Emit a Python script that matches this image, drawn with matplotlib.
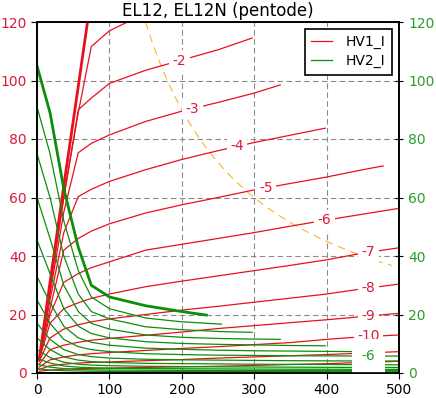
import numpy as np
import matplotlib
matplotlib.use("Agg")
import matplotlib.pyplot as plt

# ---- data ----
title = "EL12, EL12N (pentode)"
grids = [0, -1, -2, -3, -4, -5, -6, -7, -8, -9, -10, -11, -12]
Va = [3, 18, 37, 57, 75, 100, 150, 200, 250, 300, 350, 400, 450, 500]
Va_g = [0, 18, 37, 57, 75, 100, 150, 200, 250, 300, 350, 400, 450, 500]

# plate current (HV1_I), mA
ia_0 = [4.5, 31, 64, 98, 129]
ia_m1 = [4.5, 29, 60, 89, 111.6, 117, 123]
ia_m2 = [4.5, 29, 60, 90, 94, 99, 103.5, 107, 110.5, 114.5]
ia_m3 = [4.5, 27, 55, 75.3, 78.5, 81.4, 86, 89.5, 92.5, 95.7, 98.5]
ia_m4 = [4.5, 25, 48, 60.3, 62.8, 65.5, 69.5, 73, 76, 78.8, 81.3, 83.7]
ia_m5 = [4.5, 22, 42, 46, 48.5, 51, 54.7, 57.5, 60, 62.6, 64.8, 67, 69.5, 70.8]
ia_m6 = [4.5, 20, 31, 34, 36, 38, 42, 44, 46, 48, 50.2, 52.3, 54.3, 56.3]
ia_m7 = [4.5, 17, 22, 24, 25.5, 27, 29.5, 31.4, 33.2, 35, 36.8, 38.7, 41, 42.8]
ia_m8 = [4, 12, 15, 16.5, 17.5, 18.5, 20, 21.5, 22.8, 24.2, 25.6, 27, 28.8, 30.4]
ia_m9 = [3, 8, 9.5, 10.5, 11.2, 11.8, 12.9, 14, 15.2, 16.2, 17.2, 18.2, 19.3, 20.4]
ia_m10 = [2, 4.5, 5.5, 6.2, 6.6, 7, 7.7, 8.4, 9, 9.7, 10.4, 11.5, 12.4, 13]
ia_m11 = [1.2, 2.5, 3, 3.4, 3.6, 3.8, 4.2, 4.6, 5.1, 5.5, 5.9, 6.3, 6.8, 7.3]
ia_m12 = [0.6, 1, 1.3, 1.5, 1.6, 1.7, 1.9, 2.1, 2.3, 2.6, 2.9, 3.2, 3.6, 4.0]
va_end_m2, va_end_m3, va_end_m4, va_end_m5 = 297, 336, 398, 478

# screen current (HV2_I), mA
ig_0 = [105, 89, 63, 43, 30, 26, 23, 21, 19.8]
va_end_g0 = 234
ig_m1 = [91, 75, 52, 35, 26, 22, 18.8, 17.5, 16.7]
va_end_g1 = 255
ig_m2 = [75, 60, 40, 27, 21, 18.5, 15.8, 14.8, 14.2, 13.9]
va_end_g2 = 297
ig_m3 = [60, 46, 30, 21, 17, 15, 13, 12.2, 11.8, 11.6, 11.5]
va_end_g3 = 336
ig_m4 = [45.5, 34, 22, 16, 13.5, 12, 10.7, 10.1, 9.8, 9.6, 9.4, 9.3]
va_end_g4 = 398
ig_m5 = [33, 24, 16, 12, 10.5, 9.5, 8.5, 8.1, 7.8, 7.6, 7.5, 7.4, 7.3]
va_end_g5 = 439
ig_m6 = [25, 17, 11.5, 9, 8, 7.3, 6.6, 6.3, 6.1, 6.0, 5.9, 5.85, 5.8, 5.8]
ig_m7 = [17, 11.5, 8, 6.3, 5.6, 5.1, 4.7, 4.5, 4.4, 4.3, 4.2, 4.15, 4.1, 4.1]
ig_m8 = [12, 8, 5.5, 4.4, 3.9, 3.6, 3.3, 3.2, 3.1, 3.0, 2.95, 2.9, 2.85, 2.8]
ig_m9 = [8, 5.3, 3.7, 3, 2.7, 2.5, 2.3, 2.2, 2.1, 2.05, 2.0, 1.95, 1.9, 1.9]
ig_m10 = [5, 3.4, 2.4, 2, 1.8, 1.6, 1.5, 1.45, 1.4, 1.35, 1.3, 1.3, 1.25, 1.25]
ig_m11 = [3, 2, 1.5, 1.2, 1.1, 1, .95, .9, .88, .85, .83, .82, .8, .8]
ig_m12 = [1.5, 1, .8, .7, .6, .55, .5, .5, .48, .46, .45, .44, .43, .43]

pdiss_w = 18.0
pdiss_va = [150, 490]

red_labels = {-2: 197, -3: 215, -4: 276, -5: 316, -6: 397, -7: 458, -8: 458, -9: 458, -10: 458}
green_label = (-6, 458)

xticks = [0, 100, 200, 300, 400, 500]
yticks = [0, 20, 40, 60, 80, 100, 120]


def xs_for(base, ys, va_end=None):
    xs = list(base[:len(ys)])
    if va_end is not None:
        xs[-1] = va_end
    return xs


red_curves = {
    0: (xs_for(Va, ia_0), ia_0),
    -1: (xs_for(Va, ia_m1), ia_m1),
    -2: (xs_for(Va, ia_m2, va_end_m2), ia_m2),
    -3: (xs_for(Va, ia_m3, va_end_m3), ia_m3),
    -4: (xs_for(Va, ia_m4, va_end_m4), ia_m4),
    -5: (xs_for(Va, ia_m5, va_end_m5), ia_m5),
    -6: (xs_for(Va, ia_m6), ia_m6),
    -7: (xs_for(Va, ia_m7), ia_m7),
    -8: (xs_for(Va, ia_m8), ia_m8),
    -9: (xs_for(Va, ia_m9), ia_m9),
    -10: (xs_for(Va, ia_m10), ia_m10),
    -11: (xs_for(Va, ia_m11), ia_m11),
    -12: (xs_for(Va, ia_m12), ia_m12),
}
green_curves = {
    0: (xs_for(Va_g, ig_0, va_end_g0), ig_0),
    -1: (xs_for(Va_g, ig_m1, va_end_g1), ig_m1),
    -2: (xs_for(Va_g, ig_m2, va_end_g2), ig_m2),
    -3: (xs_for(Va_g, ig_m3, va_end_g3), ig_m3),
    -4: (xs_for(Va_g, ig_m4, va_end_g4), ig_m4),
    -5: (xs_for(Va_g, ig_m5, va_end_g5), ig_m5),
    -6: (xs_for(Va_g, ig_m6), ig_m6),
    -7: (xs_for(Va_g, ig_m7), ig_m7),
    -8: (xs_for(Va_g, ig_m8), ig_m8),
    -9: (xs_for(Va_g, ig_m9), ig_m9),
    -10: (xs_for(Va_g, ig_m10), ig_m10),
    -11: (xs_for(Va_g, ig_m11), ig_m11),
    -12: (xs_for(Va_g, ig_m12), ig_m12),
}

RED = "#e8101e"
GREEN = "#0a8f0a"
RED_T = "#d81b3c"
GREEN_T = "#2a9d2a"

fig = plt.figure(figsize=(4.36, 3.98), dpi=100)
ax = fig.add_axes([37 / 436, 1 - 373 / 398, 362 / 436, 351 / 398])
ax2 = ax.twinx()

ax.grid(True, color="#8c8c8c", linestyle=(0, (5, 3)), linewidth=0.8)
ax.set_axisbelow(True)

for g in grids:
    xs, ys = red_curves[g]
    lw = 2.0 if g == 0 else 0.9
    ax.plot(xs, ys, color=RED, lw=lw, label="HV1_I" if g == -1 else None, zorder=3)
for g in grids:
    xs, ys = green_curves[g]
    lw = 2.0 if g == 0 else 0.9
    ax.plot(xs, ys, color=GREEN, lw=lw, label="HV2_I" if g == -1 else None, zorder=3)

pv = np.linspace(pdiss_va[0], pdiss_va[1], 200)
ax.plot(pv, pdiss_w * 1000 / pv, color="orange", lw=0.8, ls=(0, (7, 5)), alpha=0.85, zorder=2)

bbox = dict(boxstyle="square,pad=0.25", fc="white", ec="none")
for g, xv in red_labels.items():
    xs, ys = red_curves[g]
    yv = np.interp(xv, xs, ys)
    ax.text(xv, yv, str(g), color=RED_T, fontsize=10, ha="center", va="center", bbox=bbox, zorder=5)
gg, gx = green_label
xs, ys = green_curves[gg]
ax.text(gx, np.interp(gx, xs, ys), str(gg), color=GREEN_T, fontsize=10, ha="center", va="center",
        bbox=dict(boxstyle="square,pad=0.7", fc="white", ec="none"), zorder=6)

ax.set_xlim(0, 500)
ax.set_ylim(0, 120)
ax2.set_ylim(0, 120)
ax.set_xticks(xticks)
ax.set_yticks(yticks)
ax2.set_yticks(yticks)
ax.tick_params(axis="y", colors=RED_T, labelsize=10, direction="out", length=4)
ax.tick_params(axis="y", color="black")
ax.tick_params(axis="x", labelsize=10, direction="out", length=4)
ax2.tick_params(axis="y", colors=GREEN_T, labelsize=10, direction="inout", length=6)
ax2.tick_params(axis="y", color="black")
for a in (ax, ax2):
    for s in a.spines.values():
        s.set_linewidth(1.2)

ax.set_title(title, fontsize=12, pad=4)
leg = ax.legend(loc="upper right", fontsize=10, fancybox=False, framealpha=1,
                edgecolor="black", borderpad=0.45, labelspacing=0.35, handlelength=1.5,
                handletextpad=1.0, borderaxespad=0.5)
leg.get_frame().set_linewidth(1.2)
leg.set_zorder(10)

fig.savefig("out.png", dpi=100)
